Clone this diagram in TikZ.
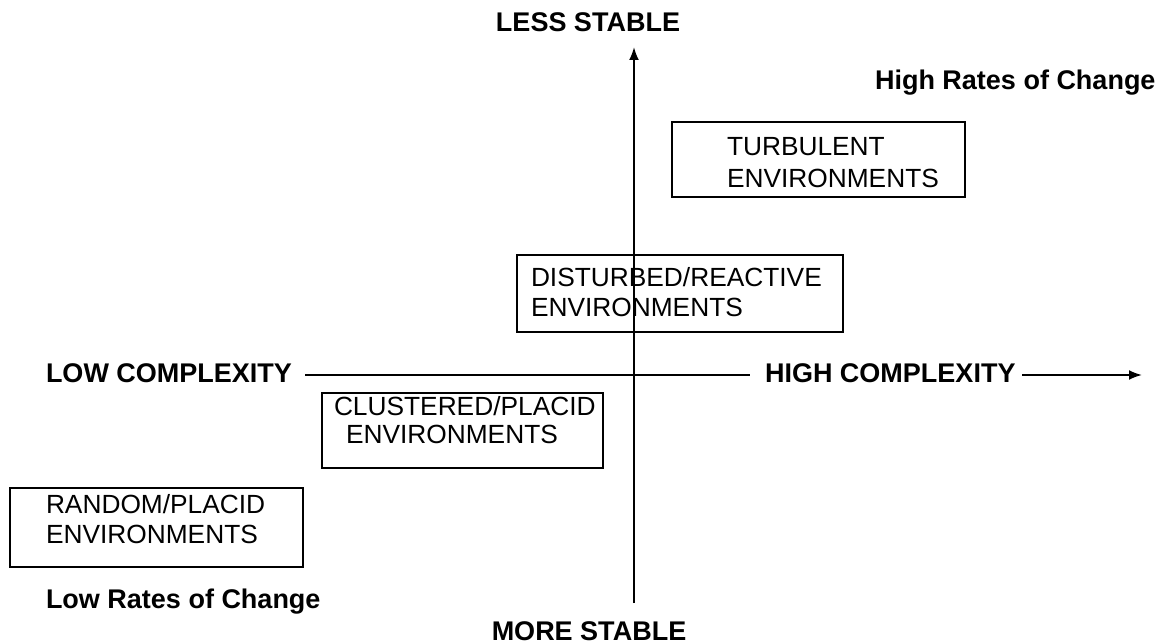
\documentclass[tikz,border=0pt]{standalone}
\usepackage{fontspec}
\setmainfont{Liberation Sans}
\usetikzlibrary{arrows.meta}
\begin{document}
\begin{tikzpicture}[x=1pt,y=-1pt,
  every node/.style={inner sep=0pt, outer sep=0pt},
  axislabel/.style={font=\fontsize{27}{30}\selectfont\bfseries},
  envtext/.style={anchor=base west, font=\fontsize{26.3}{30}\selectfont},
  envbox/.style={draw, line width=2pt, anchor=north west},
  axis/.style={line width=2pt},
  tip/.style={-{Latex[length=13pt,width=10pt]}}
]
\useasboundingbox (0,0) rectangle (1165,644);

% environment boxes
\node[envbox, minimum width=293pt, minimum height=75pt] (turbbox) at (672,122) {};
\node[envbox, minimum width=326pt, minimum height=77pt] (distbox) at (517,255) {};
\node[envbox, minimum width=281pt, minimum height=75pt] (clusbox) at (322,393) {};
\node[envbox, minimum width=293pt, minimum height=79pt] (randbox) at (10,488) {};

% box texts
\node[envtext] (turbA) at (727,156) {TURBULENT};
\node[envtext] (turbB) at (727,188) {ENVIRONMENTS};
\node[envtext] (distA) at (531,287) {DISTURBED/REACTIVE};
\node[envtext] (distB) at (531,317) {ENVIRONMENTS};
\node[envtext] (clusA) at (334,415) {CLUSTERED/PLACID};
\node[envtext] (clusB) at (346,443) {ENVIRONMENTS};
\node[envtext] (randA) at (46,513) {RANDOM/PLACID};
\node[envtext] (randB) at (46,543) {ENVIRONMENTS};

% axis labels
\node[axislabel, anchor=base] (less) at (588,32) {LESS STABLE};
\node[axislabel, anchor=base] (more) at (589,640) {MORE STABLE};
\node[axislabel, anchor=base west] (highrate) at (875,90) {High Rates of Change};
\node[axislabel, anchor=base west] (lowrate) at (46,608) {Low Rates of Change};
\node[axislabel, anchor=base west] (lowc) at (46,382) {LOW COMPLEXITY};
\node[axislabel, anchor=base west] (highc) at (765,382) {HIGH COMPLEXITY};

% axes
\coordinate (vbot) at (634,603);
\coordinate (vtop) at (634,47);
\coordinate (hstart) at (305,375);
\coordinate (hgapL) at (750,375);
\coordinate (hgapR) at (1022,375);
\coordinate (hend) at (1142,375);
\draw[axis, tip] (vbot) -- (vtop);
\draw[axis] (hstart) -- (hgapL);
\draw[axis, tip] (hgapR) -- (hend);
\end{tikzpicture}
\end{document}
